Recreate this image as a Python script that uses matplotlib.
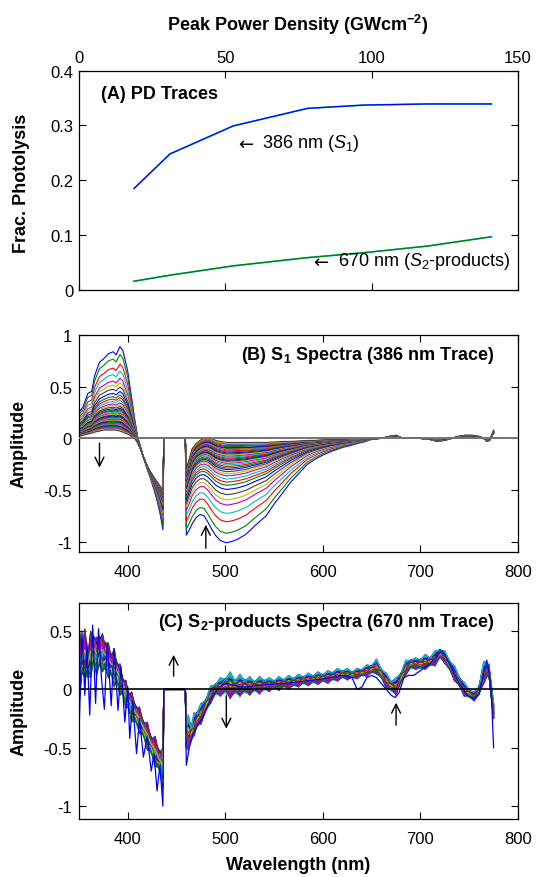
import matplotlib
matplotlib.use("Agg")
import matplotlib.pyplot as plt
import numpy as np
from matplotlib.ticker import FuncFormatter

plt.rcParams['font.family'] = ['Liberation Sans', 'DejaVu Sans']
plt.rcParams['axes.unicode_minus'] = False
plt.rcParams['mathtext.fontset'] = 'custom'
plt.rcParams['mathtext.rm'] = 'Liberation Sans'
plt.rcParams['mathtext.it'] = 'Liberation Sans:italic'
plt.rcParams['mathtext.bf'] = 'Liberation Sans:bold'

# MATLAB (old) default line colours: b g r c m y k
mcolors = [(0, 0, 1), (0, 0.5, 0), (1, 0, 0), (0, 0.75, 0.75),
           (0.75, 0, 0.75), (0.75, 0.75, 0), (0.25, 0.25, 0.25)]

# ---- Panel A: photolysis fraction vs peak power density
pd_levels = [18.8, 31.1, 52.7, 78.1, 97.4, 119.0, 140.9]
frac_386 = [0.185, 0.248, 0.299, 0.331, 0.337, 0.339, 0.339]
frac_670 = [0.016, 0.027, 0.044, 0.059, 0.068, 0.080, 0.097]

# ---- Panel B: S1 spectra (largest and smallest trace, depth of each trace)
b_wl = [350, 354, 359, 363, 366, 371, 375, 380, 385, 388, 392, 395, 397, 400,
        402, 405, 407, 410, 413, 416, 420, 423, 427, 430, 433, 436, 437, 459,
        460, 463, 466, 470, 474, 478, 482, 486, 490, 495, 501, 506, 512, 521,
        530, 542, 550, 559, 567, 576, 584, 592, 600, 610, 621, 628, 635, 642,
        650, 660, 668, 675, 682, 690, 700, 710, 717, 725, 732, 739, 746, 753,
        760, 765, 768, 771, 773, 775]
b_big = [0.25, 0.30, 0.43, 0.45, 0.60, 0.73, 0.76, 0.81, 0.83, 0.80, 0.88, 0.84,
         0.76, 0.64, 0.51, 0.32, 0.19, 0.02, -0.08, -0.18, -0.30, -0.38, -0.50,
         -0.60, -0.72, -0.88, 0, 0,
         -0.93, -0.88, -0.82, -0.76, -0.73, -0.74, -0.80, -0.87, -0.93, -0.98,
         -1.00, -0.99, -0.97, -0.92, -0.84, -0.74, -0.63, -0.52, -0.42, -0.33,
         -0.25, -0.20, -0.16, -0.12, -0.085, -0.07, -0.05, -0.035, -0.01, 0.0,
         0.02, 0.03, 0.0, 0.0, 0.0, -0.01, -0.03, -0.02, 0.0, 0.02, 0.03, 0.03,
         0.02, 0.0, -0.03, -0.02, 0.03, 0.08]
b_small = [0.02, 0.03, 0.04, 0.05, 0.06, 0.07, 0.08, 0.08, 0.08, 0.08, 0.07,
           0.06, 0.05, 0.04, 0.03, 0.01, 0.0, -0.04, -0.10, -0.18, -0.27, -0.32,
           -0.38, -0.42, -0.46, -0.50, 0, 0,
           -0.30, -0.20, -0.10, -0.05, -0.02, 0.0, 0.01, 0.0, -0.02, -0.03,
           -0.04, -0.04, -0.04, -0.04, -0.04, -0.04, -0.035, -0.03, -0.03,
           -0.025, -0.02, -0.02, -0.015, -0.01, -0.01, -0.005, -0.005, 0.0, 0.0,
           0.0, 0.01, 0.02, 0.0, 0.0, 0.0, -0.01, -0.02, -0.01, 0.0, 0.01, 0.02,
           0.02, 0.01, 0.0, -0.02, -0.01, 0.02, 0.05]
# amplitude of each trace at the ~505 nm minimum, largest first
b_depth = [-1.00, -0.91, -0.80, -0.72, -0.64, -0.59, -0.54, -0.49, -0.45, -0.42,
           -0.39, -0.36, -0.34, -0.32, -0.30, -0.285, -0.27, -0.255, -0.24, -0.23,
           -0.22, -0.21, -0.20, -0.19, -0.18, -0.17, -0.16, -0.15, -0.14, -0.13,
           -0.12, -0.11, -0.105, -0.10, -0.095, -0.09, -0.08, -0.07, -0.06, -0.055,
           -0.05, -0.04]

# ---- Panel C: S2-products spectra (band envelopes, position of each trace)
c_wl = [350, 353, 356, 359, 362, 365, 368, 371, 374, 377, 380, 383, 386, 389,
        392, 395, 398, 401, 404, 408, 412, 416, 420, 424, 428, 432, 436, 437,
        459, 460, 462, 465, 468, 471, 475,
        480, 485, 490, 495, 500, 505, 510, 515, 520, 525, 530, 535, 540, 545,
        550, 555, 560, 565, 570, 575, 580, 585, 590, 595, 600, 605, 610, 615,
        620, 625, 630, 635, 640, 645, 650, 655, 660, 665, 670, 675, 680, 685,
        690, 695, 700, 705, 710, 715, 720, 725, 730, 735, 740, 745, 750, 755,
        760, 765, 770, 775]
c_hi = [0.55, 0.45, 0.52, 0.40, 0.50, 0.55, 0.45, 0.56, 0.48, 0.50, 0.40, 0.38,
        0.35, 0.30, 0.22, 0.15, 0.08, 0.03, -0.02, -0.08, -0.15, -0.22, -0.28,
        -0.35, -0.40, -0.45, -0.50, 0,
        0, -0.25, -0.22, -0.28, -0.20, -0.15, -0.12,
        -0.05, 0.03, 0.08, 0.10, 0.14, 0.15, 0.12, 0.13, 0.12, 0.11, 0.10, 0.11,
        0.11, 0.10, 0.10, 0.11, 0.11, 0.12, 0.12, 0.13, 0.13, 0.14, 0.14, 0.15,
        0.15, 0.16, 0.17, 0.18, 0.18, 0.18, 0.17, 0.18, 0.19, 0.21, 0.23, 0.26,
        0.20, 0.14, 0.10, 0.10, 0.17, 0.25, 0.28, 0.27, 0.29, 0.30, 0.30, 0.33,
        0.37, 0.33, 0.27, 0.20, 0.13, 0.06, 0.02, -0.02, 0.05, 0.24, 0.25, -0.12]
c_lo = [-0.15, 0.05, 0.10, 0.02, 0.10, 0.15, 0.12, 0.10, 0.15, 0.08, 0.10, 0.05,
        0.02, 0.00, -0.05, -0.10, -0.16, -0.22, -0.28, -0.33, -0.38, -0.45,
        -0.52, -0.60, -0.66, -0.75, -0.85, 0,
        0, -0.58, -0.52, -0.48, -0.40, -0.36, -0.30,
        -0.22, -0.12, -0.07, -0.06, -0.07, -0.08, -0.07, -0.06, -0.06, -0.05,
        -0.04, -0.04, -0.03, -0.02, -0.01, -0.01, 0.0, 0.0, 0.01, 0.02, 0.03,
        0.03, 0.04, 0.04, 0.05, 0.05, 0.06, 0.07, 0.08, 0.08, 0.08, 0.09, 0.10,
        0.11, 0.12, 0.13, 0.07, 0.01, -0.04, -0.05, 0.03, 0.12, 0.16, 0.17,
        0.15, 0.17, 0.18, 0.20, 0.25, 0.22, 0.14, 0.07, 0.0, -0.06, -0.09,
        -0.10, -0.07, 0.05, 0.10, -0.25]
# relative position of each trace inside the band (0 = lower, 1 = upper)
c_pos_uv = [0.90, 0.55, 0.10, 0.35, 0.70, 0.25, 0.95, 0.60, 0.45, 0.15, 0.80,
            0.30, 0.65, 0.05, 0.50, 0.85, 0.20, 0.75, 0.40, 1.00, 0.00, 0.58,
            0.33, 0.72, 0.12, 0.88, 0.47, 0.27, 0.62, 0.08, 0.92, 0.38, 0.68,
            0.18, 0.52, 0.82, 0.22, 0.78, 0.42, 0.97, 0.57, 0.99]
c_pos_vis = [0.20, 0.95, 0.60, 0.05, 0.40, 0.75, 0.30, 0.85, 0.10, 0.65, 0.50,
             0.90, 0.15, 0.70, 0.35, 0.00, 0.80, 0.45, 1.00, 0.25, 0.55, 0.12,
             0.68, 0.38, 0.88, 0.22, 0.58, 0.78, 0.08, 0.48, 0.32, 0.92, 0.18,
             0.62, 0.42, 0.72, 0.28, 0.52, 0.98, 0.02, 0.45, 0.35]
# the single noisy blue trace
blue_wl = [350, 353, 356, 358, 361, 364, 367, 370, 373, 376, 379, 383, 386, 390,
           393, 397, 400, 402, 405, 409, 412, 416, 420, 424, 427, 430, 433, 436,
           437, 459, 460, 463, 467, 472, 477, 482, 487, 492, 497, 502, 510, 520,
           540, 560, 580, 600, 620, 630, 635, 640, 645, 650, 655, 660, 665, 670,
           674, 678, 683, 688, 693, 700, 710, 718, 722, 726, 732, 740, 748, 755,
           760, 765, 768, 771, 773, 775]
blue_amp = [-0.38, 0.50, -0.05, 0.40, -0.22, 0.55, -0.12, 0.52, 0.10, -0.17,
            0.40, -0.14, 0.35, -0.18, 0.20, -0.28, 0.02, -0.42, -0.10, -0.55,
            -0.25, -0.58, -0.40, -0.70, -0.55, -0.87, -0.65, -1.0, 0, 0,
            -0.65, -0.50, -0.38, -0.30, -0.24, -0.14, -0.05, 0.0, 0.04, 0.05,
            0.03, 0.02, 0.04, 0.05, 0.07, 0.09, 0.12, 0.10, 0.0, 0.02,
            0.10, 0.12, 0.10, 0.05, 0.0, -0.05, -0.07, -0.03, 0.10, 0.12,
            0.12, 0.16, 0.22, 0.30, 0.33, 0.28, 0.18, 0.05, -0.05, -0.08,
            -0.04, 0.15, 0.25, 0.10, -0.10, -0.50]

W, H = 538, 878


def box(top, bottom, left=79, right=518):
    return [left / W, 1 - bottom / H, (right - left) / W, (bottom - top) / H]


fig = plt.figure(figsize=(W / 100, H / 100), dpi=100)
ax_a = fig.add_axes(box(71.5, 291))
ax_b = fig.add_axes(box(336, 553))
ax_c = fig.add_axes(box(604, 820))

fmt = FuncFormatter(lambda v, p: f"{v:g}")
for ax in (ax_a, ax_b, ax_c):
    ax.tick_params(direction='in', length=5, width=0.8, labelsize=12,
                   top=True, right=True, pad=5)
    for s in ax.spines.values():
        s.set_linewidth(0.9)
    ax.xaxis.set_major_formatter(fmt)
    ax.yaxis.set_major_formatter(fmt)

# ---- A
cyan = mcolors[3]
ax_a.plot(pd_levels, frac_386, color=cyan, lw=1.2)
ax_a.plot(pd_levels, frac_386, color=mcolors[0], lw=0.9)
ax_a.plot(pd_levels, frac_670, color=cyan, lw=1.2)
ax_a.plot(pd_levels, frac_670, color=mcolors[1], lw=0.9)
ax_a.set_xlim(0, 150)
ax_a.set_ylim(0, 0.4)
ax_a.set_xticks([0, 50, 100, 150])
ax_a.set_yticks([0, 0.1, 0.2, 0.3, 0.4])
ax_a.tick_params(labeltop=True, labelbottom=False, pad=4)
ax_a.text(7.4, 0.358, "(A) PD Traces", fontsize=13, fontweight='bold', va='center')
ax_a.text(54.3, 0.266, "\u2190", fontsize=13, family='DejaVu Sans', va='center')
ax_a.text(62.5, 0.268, "386 nm ($S_1$)", fontsize=13, va='center')
ax_a.text(80.0, 0.051, "\u2190", fontsize=13, family='DejaVu Sans', va='center')
ax_a.text(88.4, 0.053, "670 nm ($S_2$-products)", fontsize=13, va='center')

# ---- B
big = np.array(b_big)
small = np.array(b_small)
a_big, a_small = -0.99, -0.04
for i, d in enumerate(b_depth):
    w = (d - a_small) / (a_big - a_small)
    ax_b.plot(b_wl, small + w * (big - small), color=mcolors[i % 7], lw=0.8)
ax_b.axhline(0, color=(0.45, 0.45, 0.45), lw=1.4, zorder=5)
ax_b.set_xlim(350, 800)
ax_b.set_ylim(-1.1, 1)
ax_b.set_xticks([400, 500, 600, 700, 800])
ax_b.set_yticks([-1, -0.5, 0, 0.5, 1])
ax_b.tick_params(axis='x', pad=9)
ax_b.text(776, 0.815, r"(B) S$_\mathbf{1}$ Spectra (386 nm Trace)",
          fontsize=13, fontweight='bold', ha='right', va='center')
arw = dict(arrowstyle='->', lw=1.0, color='k', mutation_scale=16)
ax_b.annotate('', xy=(371, -0.31), xytext=(371, -0.02), arrowprops=arw)
ax_b.annotate('', xy=(480, -0.81), xytext=(480, -1.09), arrowprops=arw)

# ---- C
hi = np.array(c_hi)
lo = np.array(c_lo)
uv = np.array(c_wl) < 450
even = np.arange(len(c_wl)) % 2 == 0
for i in range(len(c_pos_uv)):
    pu, pv = c_pos_uv[i], c_pos_vis[i]
    mid = 0.5 * (pu + pv)
    f = np.where(uv, np.where(even, pu, mid), np.where(even, pv, mid))
    ax_c.plot(c_wl, lo + f * (hi - lo), color=mcolors[i % 7], lw=0.9)
ax_c.plot(blue_wl, blue_amp, color=mcolors[0], lw=0.9)
ax_c.axhline(0, color='k', lw=1.2, zorder=5)
ax_c.set_xlim(350, 800)
ax_c.set_ylim(-1.11, 0.74)
ax_c.set_xticks([400, 500, 600, 700, 800])
ax_c.set_yticks([-1, -0.5, 0, 0.5])
ax_c.tick_params(axis='x', pad=9)
ax_c.text(776, 0.584, r"(C) S$_\mathbf{2}$-products Spectra (670 nm Trace)",
          fontsize=13, fontweight='bold', ha='right', va='center')
ax_c.annotate('', xy=(447, 0.32), xytext=(447, 0.09), arrowprops=arw)
ax_c.annotate('', xy=(501, -0.36), xytext=(501, -0.03), arrowprops=arw)
ax_c.annotate('', xy=(675, -0.09), xytext=(675, -0.33), arrowprops=arw)

# ---- axis labels
fig.text(298 / W, 1 - 25 / H, "Peak Power Density (GWcm$^\\mathbf{-2}$)",
         fontsize=13, fontweight='bold', ha='center', va='center')
fig.text(22 / W, 1 - 183 / H, "Frac. Photolysis", fontsize=13, fontweight='bold',
         rotation=90, ha='center', va='center')
fig.text(19 / W, 1 - 444 / H, "Amplitude", fontsize=13, fontweight='bold',
         rotation=90, ha='center', va='center')
fig.text(19 / W, 1 - 712 / H, "Amplitude", fontsize=13, fontweight='bold',
         rotation=90, ha='center', va='center')
fig.text(298 / W, 1 - 866 / H, "Wavelength (nm)", fontsize=13, fontweight='bold',
         ha='center', va='center')

fig.savefig("out.png", dpi=100)
